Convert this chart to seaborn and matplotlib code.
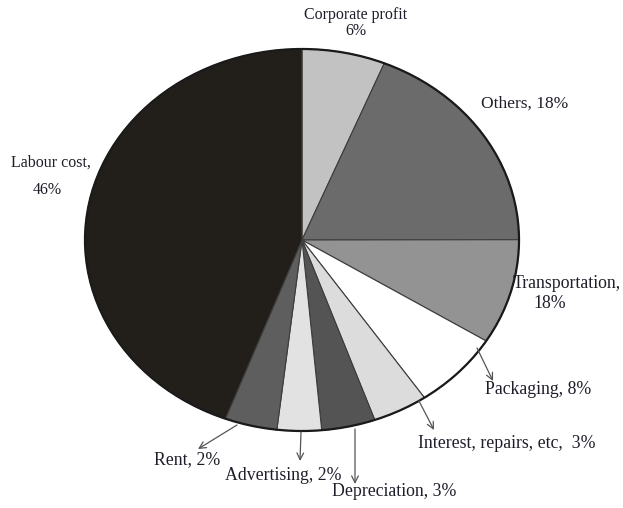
import matplotlib
matplotlib.use("Agg")
import matplotlib.pyplot as plt
import matplotlib.patches as mpatches
import seaborn as sns

# slice sizes as drawn, labels as printed on the chart
categories = ["Corporate profit", "Others", "Transportation", "Packaging",
              "Interest, repairs, etc", "Depreciation", "Advertising", "Rent", "Labour cost"]
slice_sizes = [6.2, 18.8, 8.9, 6.6, 4.1, 4.0, 3.3, 3.9, 44.3]
printed_pct = ["6%", "18%", "18%", "8%", "3%", "3%", "2%", "2%", "46%"]
grays = ["#c2c2c2", "#6b6b6b", "#939393", "#ffffff", "#dcdcdc",
         "#545454", "#e2e2e2", "#5e5e5e", "#221f1b"]

sns.set_style("white")
plt.rcParams["font.family"] = ["Liberation Serif", "DejaVu Serif"]

W, H = 623, 508
CX, CY, RX, RY = 302, 240, 217, 191

fig = plt.figure(figsize=(W / 100, H / 100), dpi=100)
ax = fig.add_axes([0, 0, 1, 1])


def px(x, y):
    # pixel position in the image -> data coords of the stretched pie
    return (x - CX) / RX, (CY - y) / RY


wedges, _ = ax.pie(slice_sizes, colors=grays, startangle=90, counterclock=False,
                   radius=1, center=(0, 0),
                   wedgeprops=dict(edgecolor="#3c3c3c", linewidth=0.8))
ax.add_patch(mpatches.Circle((0, 0), 1, fill=False, edgecolor="#1a1a1a", linewidth=1.6))

ax.set_aspect("auto")
ax.set_xlim(-CX / RX, (W - CX) / RX)
ax.set_ylim(-(H - CY) / RY, CY / RY)
ax.axis("off")

txt = dict(color="#1e1e2a", fontsize=11.5)
big = {**txt, "fontsize": 12.8}

ax.text(*px(356, 23), f"{categories[0]}\n{printed_pct[0]}", ha="center", va="center",
        linespacing=0.95, **txt)
ax.text(*px(525, 104), f"{categories[1]}, {printed_pct[1]}", ha="center", va="center",
        **{**txt, "fontsize": 12.5})
ax.text(*px(513, 283), f"{categories[2]},", ha="left", va="center", **big)
ax.text(*px(550, 303), printed_pct[2], ha="center", va="center", **big)
ax.text(*px(51, 163), f"{categories[8]},", ha="center", va="center", **txt)
ax.text(*px(47, 190), printed_pct[8], ha="center", va="center", **txt)

# labels with arrows: (index, text pos, ha, arrow start, arrow head)
arrowed = [
    (3, (485, 390), "left", (477, 348), (493, 381)),
    (4, (418, 443), "left", (419, 401), (434, 430)),
    (5, (394, 492), "center", (355, 429), (355, 484)),
    (6, (283, 475), "center", (301, 432), (300, 461)),
    (7, (187, 460), "center", (237, 425), (198, 449)),
]
for i, (tx, ty), ha, start, head in arrowed:
    sep = ",  " if i == 4 else ", "
    ax.text(*px(tx, ty), f"{categories[i]}{sep}{printed_pct[i]}", ha=ha, va="center", **big)
    ax.annotate("", xy=px(*head), xytext=px(*start),
                arrowprops=dict(arrowstyle="->", color="#555555", lw=0.9,
                                mutation_scale=12, shrinkA=0, shrinkB=0))

fig.savefig("out.png", dpi=100, facecolor="white")
